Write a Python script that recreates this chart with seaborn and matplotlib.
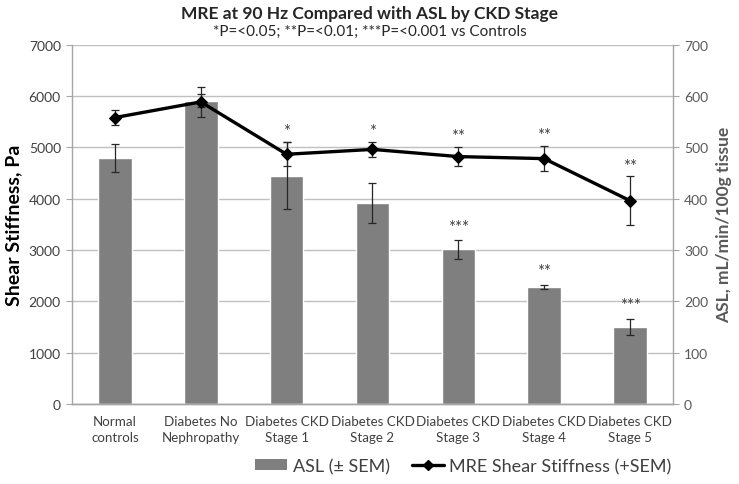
import numpy as np
import pandas as pd
import matplotlib
matplotlib.use("Agg")
import matplotlib.pyplot as plt
from matplotlib.lines import Line2D
from matplotlib.patches import Patch
import seaborn as sns

categories = ["Normal\ncontrols", "Diabetes No\nNephropathy", "Diabetes CKD\nStage 1",
              "Diabetes CKD\nStage 2", "Diabetes CKD\nStage 3", "Diabetes CKD\nStage 4",
              "Diabetes CKD\nStage 5"]
asl = [479, 591, 445, 391, 301, 228, 150]
asl_sem = [28, 12, 66, 39, 18, 4, 16]
mre = [5580, 5885, 4865, 4960, 4820, 4780, 3960]
mre_sem = [140, 300, 234, 145, 190, 250, 475]
asl_stars = ["", "", "", "", "***", "**", "***"]
mre_stars = ["", "", "*", "*", "**", "**", "**"]

df = pd.DataFrame({"group": categories, "asl": asl, "asl_sem": asl_sem,
                   "mre": mre, "mre_sem": mre_sem})

sns.set_style("white")
plt.rcParams["font.family"] = ["Lato", "DejaVu Sans"]

text_col = "#404040"
axis_col = "#a6a6a6"

fig = plt.figure(figsize=(7.39, 4.85), dpi=100)
ax = fig.add_axes([0.0974, 0.165, 0.8133, 0.7408])
ax2 = ax.twinx()

# bars (ASL) on the right axis, kept underneath
sns.barplot(data=df, x="group", y="asl", color="#7f7f7f", saturation=1,
            width=0.39, errorbar=None, ax=ax2, zorder=2)
xpos = np.arange(len(categories))
ax2.errorbar(xpos, df["asl"], yerr=df["asl_sem"], fmt="none", ecolor="#262626",
             elinewidth=0.9, capsize=3, capthick=0.9, zorder=3)
ax2.set_ylim(0, 700)
ax2.set_yticks(np.arange(0, 701, 100))
ax2.yaxis.grid(True, color="#c0c0c0", lw=1)
ax2.set_axisbelow(True)

# line (MRE) on the left axis, drawn on top
ax.set_zorder(ax2.get_zorder() + 1)
ax.patch.set_visible(False)
ax2.patch.set_visible(True)
ax2.patch.set_facecolor("white")
sns.lineplot(x=xpos, y=df["mre"], color="black", lw=2.4, marker="D",
             markersize=6, markeredgecolor="black", ax=ax, zorder=4)
ax.errorbar(xpos, df["mre"], yerr=df["mre_sem"], fmt="none", ecolor="#262626",
            elinewidth=0.9, capsize=3, capthick=0.9, zorder=3)
ax.set_ylim(0, 7000)
ax.set_yticks(np.arange(0, 7001, 1000))
ax.set_xlim(-0.5, len(categories) - 0.5)
ax2.set_xlim(-0.5, len(categories) - 0.5)
ax.grid(False)

for i in range(len(categories)):
    if mre_stars[i]:
        ax.annotate(mre_stars[i], (i, mre[i] + mre_sem[i]), xytext=(0, 2),
                    textcoords="offset points", ha="center", va="bottom",
                    fontsize=12, color=text_col)
    if asl_stars[i]:
        ax2.annotate(asl_stars[i], (i, asl[i] + asl_sem[i]), xytext=(0, 4),
                     textcoords="offset points", ha="center", va="bottom",
                     fontsize=12, color=text_col)

# axes styling
for a in (ax, ax2):
    for s in a.spines.values():
        s.set_color(axis_col)
        s.set_linewidth(1)
    a.spines["top"].set_visible(False)
ax.spines["right"].set_visible(False)
ax2.spines["left"].set_visible(False)

ax.set_xticks(xpos)
ax.set_xticklabels(categories, fontsize=9.6, color=text_col, linespacing=1.4)
ax.set_xticks(np.arange(-0.5, len(categories)), minor=True)
ax.tick_params(axis="x", which="major", length=0, pad=8)
ax.tick_params(axis="x", which="minor", length=4, color=axis_col, direction="out")
ax2.tick_params(axis="x", which="both", length=0, labelbottom=False)
ax2.set_xlabel("")
ax.set_xlabel("")

ax.tick_params(axis="y", length=4, color=axis_col, labelsize=10, labelcolor=text_col,
               direction="out", pad=4)
ax2.tick_params(axis="y", length=4, color=axis_col, labelsize=10, labelcolor="#595959",
                direction="out", pad=4)

ax.set_ylabel("Shear Stiffness, Pa", fontsize=14, fontweight="bold", color="black",
              labelpad=5)
ax2.set_ylabel("ASL, mL/min/100g tissue", fontsize=12.5, fontweight="bold",
               color="#595959", rotation=90, labelpad=6)

fig.text(0.5, 0.972, "MRE at 90 Hz Compared with ASL by CKD Stage", ha="center",
         va="center", fontsize=12.5, fontweight="bold", color="#262626")
fig.text(0.5, 0.934, "*P=<0.05; **P=<0.01; ***P=<0.001 vs Controls", ha="center",
         va="center", fontsize=11, color="#262626")

handles = [Patch(facecolor="#7f7f7f", edgecolor="none"),
           Line2D([0], [0], color="black", lw=2.4, marker="D", markersize=5)]
fig.legend(handles, ["ASL (\u00b1 SEM)", "MRE Shear Stiffness (+SEM)"],
           loc="center", bbox_to_anchor=(0.627, 0.037), ncol=2, frameon=False,
           fontsize=13, labelcolor=text_col, handlelength=1.8, handleheight=0.6,
           columnspacing=1.2, handletextpad=0.3)

fig.savefig("out.png", dpi=100)
